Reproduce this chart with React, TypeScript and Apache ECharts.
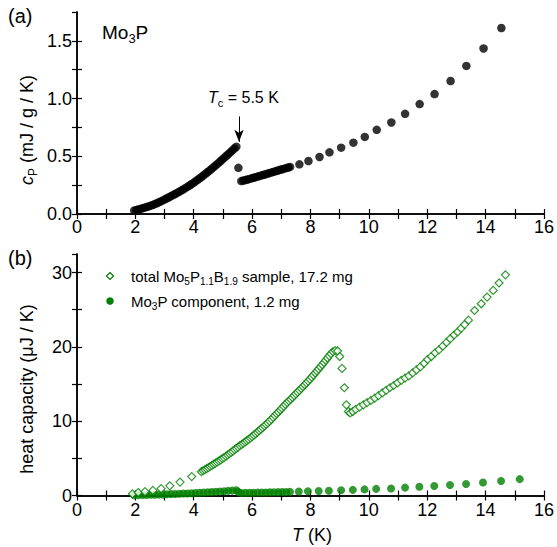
import { useEffect, useRef } from 'react';
import * as echarts from 'echarts';

const FONT = '"Liberation Sans", Arial, Helvetica, sans-serif';
const GREEN = '#008000';

// ---- panel (a): specific heat of Mo3P, mJ / g / K ----
const cpTemps = [
  1.96, 2.03, 2.10, 2.17, 2.24, 2.31, 2.38, 2.45, 2.52, 2.59, 2.66, 2.73, 2.80, 2.87, 2.94,
  3.01, 3.08, 3.15, 3.22, 3.29, 3.36, 3.43, 3.50, 3.57, 3.64, 3.71, 3.78, 3.85, 3.92, 3.99,
  4.06, 4.13, 4.20, 4.27, 4.34, 4.41, 4.48, 4.55, 4.62, 4.69, 4.76, 4.83, 4.90, 4.97, 5.04,
  5.11, 5.18, 5.25, 5.32, 5.39, 5.46,
  5.53,
  5.63, 5.70, 5.77, 5.84, 5.91, 5.98, 6.05, 6.12, 6.19, 6.26, 6.33, 6.40, 6.47, 6.54, 6.61,
  6.68, 6.75, 6.82, 6.89, 6.96, 7.03, 7.10, 7.17, 7.24, 7.30,
  7.62, 7.93, 8.31, 8.65, 9.05, 9.47, 9.86, 10.27, 10.77, 11.24, 11.74, 12.25, 12.80, 13.34,
  13.93, 14.54, 15.17,
];
const cpValues = [
  0.030, 0.034, 0.039, 0.044, 0.050, 0.055, 0.060, 0.066, 0.072, 0.078, 0.085, 0.093, 0.101, 0.109, 0.118,
  0.127, 0.136, 0.145, 0.155, 0.164, 0.173, 0.183, 0.193, 0.203, 0.213, 0.224, 0.235, 0.246, 0.258, 0.270,
  0.283, 0.296, 0.309, 0.322, 0.336, 0.350, 0.364, 0.378, 0.393, 0.408, 0.423, 0.438, 0.454, 0.470, 0.486,
  0.502, 0.518, 0.534, 0.551, 0.567, 0.583,
  0.400,
  0.285, 0.290, 0.294, 0.299, 0.304, 0.309, 0.314, 0.319, 0.324, 0.330, 0.335, 0.340, 0.345, 0.351, 0.356,
  0.361, 0.367, 0.372, 0.377, 0.383, 0.388, 0.393, 0.398, 0.403, 0.408,
  0.430, 0.459, 0.494, 0.534, 0.575, 0.618, 0.668, 0.729, 0.793, 0.868, 0.952, 1.039, 1.152, 1.283,
  1.434, 1.611, 1.830,
];

// ---- panel (b): total Mo5P1.1B1.9 sample, µJ / K ----
const totalTemps = [
  1.90, 2.10, 2.33, 2.60, 2.88, 3.18, 3.53, 3.93, 4.26,
  4.32, 4.38, 4.44, 4.50, 4.56, 4.62, 4.68, 4.74, 4.80, 4.86, 4.92, 4.98, 5.04, 5.10, 5.16,
  5.22, 5.28, 5.34, 5.40, 5.46, 5.52, 5.58, 5.64, 5.70, 5.76, 5.82, 5.88, 5.94, 6.00, 6.06,
  6.12, 6.18, 6.24, 6.30, 6.36, 6.42, 6.48, 6.54, 6.60, 6.66, 6.72, 6.78, 6.84, 6.90, 6.96,
  7.02, 7.08, 7.14, 7.20, 7.26, 7.32, 7.38, 7.44, 7.50, 7.56, 7.62, 7.68, 7.74, 7.80, 7.86,
  7.92, 7.98, 8.04, 8.10, 8.16, 8.22, 8.28, 8.34, 8.40, 8.46, 8.52, 8.58, 8.64, 8.70, 8.77,
  8.85, 8.93,
  9.00, 9.08, 9.16, 9.23, 9.30, 9.36, 9.45, 9.55,
  9.68, 9.81, 9.94, 10.07, 10.20, 10.33, 10.46, 10.59, 10.72, 10.85, 10.98, 11.11, 11.24,
  11.37, 11.50, 11.63, 11.76, 11.89, 12.01, 12.14, 12.27, 12.40, 12.53, 12.66, 12.79, 12.92,
  13.04, 13.16, 13.28, 13.41,
  13.62, 13.85, 14.05, 14.26, 14.46, 14.68,
];
const totalValues = [
  0.22, 0.40, 0.52, 0.68, 0.92, 1.30, 1.80, 2.55, 3.20,
  3.33, 3.47, 3.61, 3.75, 3.90, 4.04, 4.20, 4.35, 4.50, 4.64, 4.80, 4.95, 5.10, 5.28, 5.45,
  5.62, 5.80, 5.98, 6.17, 6.35, 6.52, 6.70, 6.86, 7.03, 7.20, 7.38, 7.55, 7.74, 7.92, 8.12,
  8.32, 8.52, 8.72, 8.93, 9.14, 9.35, 9.57, 9.78, 10.00, 10.25, 10.50, 10.75, 11.00, 11.25, 11.50,
  11.75, 12.00, 12.25, 12.50, 12.72, 12.95, 13.20, 13.45, 13.68, 13.92, 14.15, 14.40, 14.65, 14.90, 15.15,
  15.40, 15.65, 15.93, 16.20, 16.48, 16.76, 17.04, 17.32, 17.60, 17.90, 18.20, 18.50, 18.80, 19.08, 19.35,
  19.50, 19.45,
  18.70, 17.10, 14.50, 12.20, 11.30, 11.10, 11.30, 11.60,
  11.90, 12.20, 12.50, 12.80, 13.10, 13.45, 13.80, 14.15, 14.50, 14.80, 15.15, 15.50, 15.80,
  16.10, 16.50, 16.90, 17.30, 17.80, 18.30, 18.70, 19.20, 19.60, 20.10, 20.60, 21.10, 21.60,
  22.00, 22.50, 23.00, 23.60,
  24.90, 25.80, 26.70, 27.60, 28.60, 29.70,
];

// ---- panel (b): Mo3P component, 1.2 mg, µJ / K ----
const compTemps = [
  1.96, 2.10, 2.24, 2.38, 2.52, 2.66, 2.80, 2.94, 3.08, 3.22, 3.36, 3.50, 3.64, 3.78, 3.92,
  4.06, 4.20, 4.34, 4.48, 4.62, 4.76, 4.90, 5.04, 5.18, 5.32, 5.46,
  5.53,
  5.63, 5.77, 5.91, 6.05, 6.19, 6.33, 6.47, 6.61, 6.75, 6.89, 7.03, 7.17, 7.30,
  7.60, 7.91, 8.28, 8.63, 9.05, 9.45, 9.85, 10.25, 10.76, 11.24, 11.73, 12.24, 12.78, 13.33,
  13.91, 14.53, 15.17,
];
const compValues = [
  0.04, 0.05, 0.06, 0.07, 0.09, 0.10, 0.12, 0.14, 0.16, 0.19, 0.21, 0.23, 0.26, 0.28, 0.31,
  0.34, 0.37, 0.40, 0.44, 0.47, 0.51, 0.54, 0.58, 0.62, 0.66, 0.70,
  0.48,
  0.34, 0.35, 0.36, 0.38, 0.39, 0.40, 0.41, 0.43, 0.44, 0.45, 0.47, 0.48, 0.49,
  0.53, 0.57, 0.61, 0.65, 0.70, 0.76, 0.82, 0.89, 0.95, 1.06, 1.17, 1.27, 1.41, 1.55,
  1.74, 1.96, 2.20,
];

// ---- tick labels ----
const xLabelValues = [0, 2, 4, 6, 8, 10, 12, 14, 16];
const yTopLabelValues = [0, 0.5, 1.0, 1.5];
const yBottomLabelValues = [0, 10, 20, 30];

const pairs = (xs: number[], ys: number[]) => xs.map((x, i) => [x, ys[i]]);
const hasLabel = (list: number[], v: number) => list.some((l) => Math.abs(l - v) < 1e-6);

const rich = (fs: number) => ({
  n: { fontSize: fs, fontFamily: FONT, lineHeight: fs + 6, fill: '#000' },
  i: { fontSize: fs, fontFamily: FONT, fontStyle: 'italic', lineHeight: fs + 6, fill: '#000' },
  s: {
    fontSize: Math.round(fs * 0.68),
    fontFamily: FONT,
    lineHeight: Math.round(fs * 0.3),
    verticalAlign: 'bottom',
    fill: '#000',
  },
});

export default function App() {
  const ref = useRef<HTMLDivElement>(null);

  useEffect(() => {
    if (!ref.current) return;
    const chart = echarts.init(ref.current, undefined, { renderer: 'svg' });

    const axisLine = { show: true, lineStyle: { color: '#000', width: 1.5 } };
    const axisTick = { show: true, inside: true, length: 5, lineStyle: { color: '#000', width: 1.2 } };
    const labelStyle = { color: '#000', fontSize: 18, fontFamily: FONT };

    const xAxisBase = {
      type: 'value',
      min: 0,
      max: 16,
      interval: 1,
      axisLine,
      axisTick,
      splitLine: { show: false },
    };

    const option: any = {
      animation: false,
      backgroundColor: '#fff',
      grid: [
        { left: 77, right: 12, top: 12, height: 202 },
        { left: 77, right: 12, top: 254, height: 241.5 },
      ],
      xAxis: [
        {
          ...xAxisBase,
          gridIndex: 0,
          position: 'bottom',
          axisLabel: {
            ...labelStyle,
            margin: 4,
            formatter: (v: number) => (hasLabel(xLabelValues, v) ? String(v) : ''),
          },
        },
        { ...xAxisBase, gridIndex: 0, position: 'top', axisLabel: { show: false } },
        {
          ...xAxisBase,
          gridIndex: 1,
          position: 'bottom',
          axisLabel: {
            ...labelStyle,
            margin: 5,
            formatter: (v: number) => (hasLabel(xLabelValues, v) ? String(v) : ''),
          },
        },
        { ...xAxisBase, gridIndex: 1, position: 'top', axisLabel: { show: false } },
      ],
      yAxis: [
        {
          type: 'value',
          gridIndex: 0,
          position: 'left',
          min: 0,
          max: 1.75,
          interval: 0.25,
          axisLine,
          axisTick,
          splitLine: { show: false },
          axisLabel: {
            ...labelStyle,
            margin: 5,
            showMaxLabel: false,
            formatter: (v: number) => (hasLabel(yTopLabelValues, v) ? v.toFixed(1) : ''),
          },
        },
        {
          type: 'value',
          gridIndex: 0,
          position: 'right',
          min: 0,
          max: 1.75,
          interval: 0.25,
          axisLine,
          axisTick,
          splitLine: { show: false },
          axisLabel: { show: false },
        },
        {
          type: 'value',
          gridIndex: 1,
          position: 'left',
          min: 0,
          max: 32.5,
          interval: 5,
          axisLine,
          axisTick,
          splitLine: { show: false },
          axisLabel: {
            ...labelStyle,
            margin: 5,
            showMaxLabel: false,
            formatter: (v: number) => (hasLabel(yBottomLabelValues, v) ? String(v) : ''),
          },
        },
        {
          type: 'value',
          gridIndex: 1,
          position: 'right',
          min: 0,
          max: 32.5,
          interval: 5,
          axisLine,
          axisTick,
          splitLine: { show: false },
          axisLabel: { show: false },
        },
      ],
      series: [
        {
          name: 'Mo3P',
          type: 'scatter',
          xAxisIndex: 0,
          yAxisIndex: 0,
          symbol: 'circle',
          symbolSize: 8.5,
          itemStyle: { color: '#000' },
          data: pairs(cpTemps, cpValues),
          clip: true,
          markLine: {
            silent: true,
            symbol: ['none', 'arrow'],
            symbolSize: [7, 12],
            lineStyle: { color: '#000', width: 1, type: 'solid' },
            label: { show: false },
            data: [[{ coord: [5.55, 0.845] }, { coord: [5.55, 0.625] }]],
          },
        },
        {
          name: 'Mo3P component, 1.2 mg',
          type: 'scatter',
          xAxisIndex: 2,
          yAxisIndex: 2,
          symbol: 'circle',
          symbolSize: 8,
          itemStyle: { color: GREEN },
          data: pairs(compTemps, compValues),
        },
        {
          name: 'total Mo5P1.1B1.9 sample, 17.2 mg',
          type: 'scatter',
          xAxisIndex: 2,
          yAxisIndex: 2,
          symbol: 'diamond',
          symbolSize: 8,
          itemStyle: { color: '#fff', borderColor: GREEN, borderWidth: 1.2 },
          data: pairs(totalTemps, totalValues),
        },
      ],
      graphic: [
        {
          type: 'text',
          x: 8,
          y: 16,
          style: { text: '(a)', fontSize: 20, fontFamily: FONT, fill: '#000', verticalAlign: 'middle' },
        },
        {
          type: 'text',
          x: 8,
          y: 258,
          style: { text: '(b)', fontSize: 20, fontFamily: FONT, fill: '#000', verticalAlign: 'middle' },
        },
        {
          type: 'text',
          x: 102,
          y: 32,
          style: {
            text: '{n|Mo}{s|3}{n|P}',
            rich: rich(19),
            verticalAlign: 'middle',
          },
        },
        {
          type: 'text',
          x: 208,
          y: 97,
          style: {
            text: '{i|T}{s|c}{n| = 5.5 K}',
            rich: rich(16),
            verticalAlign: 'middle',
          },
        },
        {
          type: 'text',
          x: 27,
          y: 130,
          rotation: Math.PI / 2,
          style: {
            text: '{i|c}{s|P}{n| (mJ / g / K)}',
            rich: rich(18),
            align: 'center',
            verticalAlign: 'middle',
          },
        },
        {
          type: 'text',
          x: 27,
          y: 389,
          rotation: Math.PI / 2,
          style: {
            text: '{n|heat capacity (μJ / K)}',
            rich: rich(18),
            align: 'center',
            verticalAlign: 'middle',
          },
        },
        {
          type: 'text',
          x: 312,
          y: 535,
          style: {
            text: '{i|T}{n| (K)}',
            rich: rich(18),
            align: 'center',
            verticalAlign: 'middle',
          },
        },
        // legend
        {
          type: 'polygon',
          shape: { points: [[110, 272.5], [113.5, 276], [110, 279.5], [106.5, 276]] },
          style: { fill: '#fff', stroke: GREEN, lineWidth: 1.2 },
        },
        {
          type: 'circle',
          shape: { cx: 110, cy: 301, r: 3.75 },
          style: { fill: GREEN },
        },
        {
          type: 'text',
          x: 131,
          y: 276,
          style: {
            text: '{n|total Mo}{s|5}{n|P}{s|1.1}{n|B}{s|1.9}{n| sample, 17.2 mg}',
            rich: rich(15),
            verticalAlign: 'middle',
          },
        },
        {
          type: 'text',
          x: 131,
          y: 301,
          style: {
            text: '{n|Mo}{s|3}{n|P component, 1.2 mg}',
            rich: rich(15),
            verticalAlign: 'middle',
          },
        },
      ],
    };

    chart.setOption(option);
    return () => chart.dispose();
  }, []);

  return (
    <div
      ref={ref}
      style={{ position: 'fixed', left: 0, top: 0, width: 557, height: 547, background: '#fff' }}
    />
  );
}
